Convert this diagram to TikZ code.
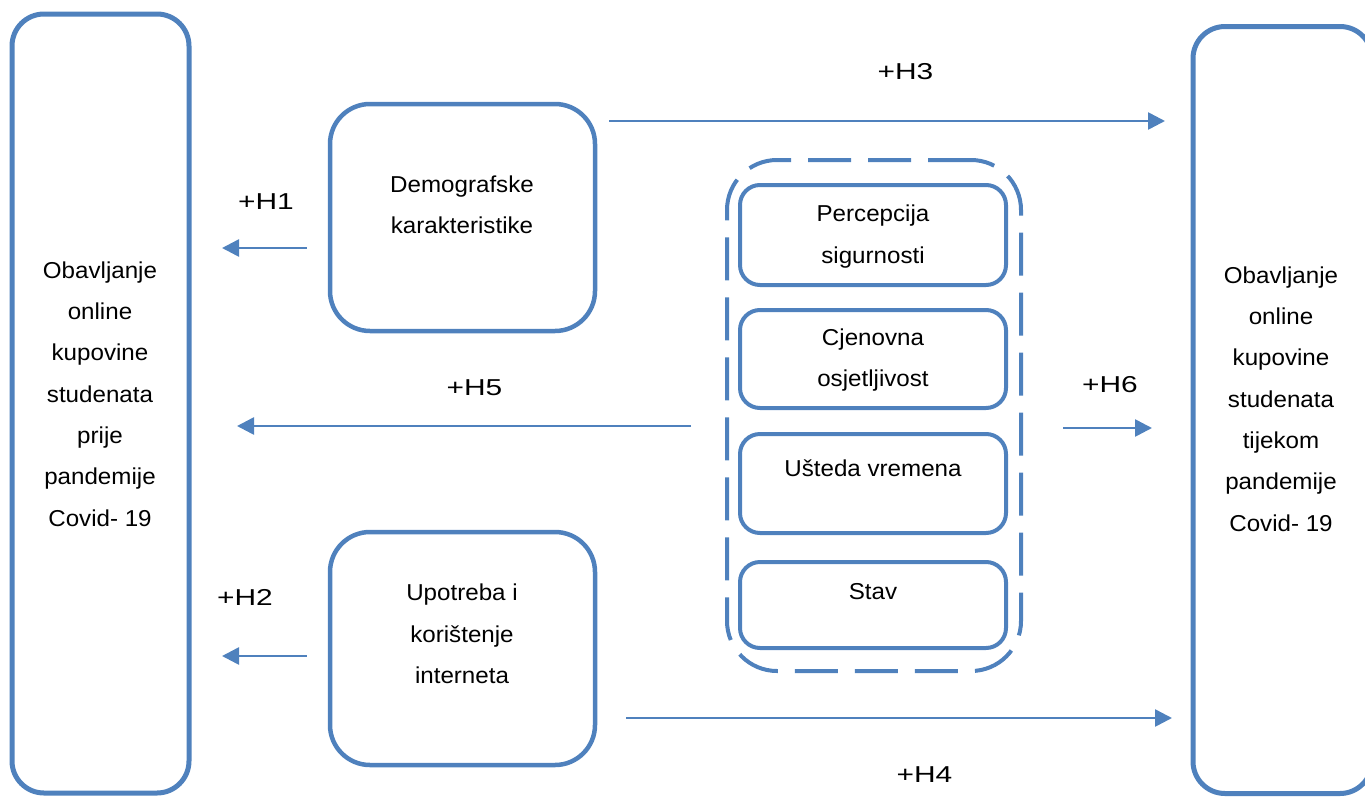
\documentclass[tikz,border=0pt]{standalone}
\usepackage{fontspec}
\setmainfont{Liberation Sans}[FakeStretch=1.05]
\newfontfamily\hypfont{Liberation Sans}[FakeStretch=1.3]
\usetikzlibrary{arrows.meta}

\begin{document}
\begin{tikzpicture}[x=0.5pt, y=-0.5pt]

	\def\yha{248}
	\def\yhb{656}
	\def\yhc{121}
	\def\yhd{718}
	\def\yhe{426}
	\def\yhf{428}

	% Colours
	\definecolor{boxcolor}{HTML}{4F81BD}

	% Styles
	\tikzstyle{bigbox}=[draw=boxcolor, line width=2.5pt, rounded corners=16pt, inner sep=0pt]
	\tikzstyle{midbox}=[draw=boxcolor, line width=2.25pt, rounded corners=20pt, inner sep=0pt,
		minimum width=132.5pt]
	\tikzstyle{factorbox}=[draw=boxcolor, line width=2pt, rounded corners=10pt, inner sep=0pt,
		minimum width=133pt]
	\tikzstyle{groupbox}=[draw=boxcolor, line width=2pt, dash pattern=on 21.5pt off 8.5pt,
		rounded corners=25pt, inner sep=0pt]
	\tikzstyle{link}=[boxcolor, line width=1.3pt, -{Triangle[length=8.5pt, width=8.5pt]}]
	\tikzstyle{boxtext}=[align=center, inner sep=0pt, font=\fontsize{11.5}{20.65}\selectfont]
	\tikzstyle{hyp}=[inner sep=0pt, font=\hypfont\fontsize{11.5}{13}\selectfont]

	\useasboundingbox (0,0) rectangle (1365,798);
	\clip (0,0) rectangle (1365,798);

	%== Outer boxes ===========================================================
	\node[bigbox, minimum width=88.5pt, minimum height=389.5pt] (before) at (100.5,403.5) {};
	\node[boxtext] (beforetext) at (100,394)
		{Obavljanje\\online\\kupovine\\studenata\\prije\\pandemije\\Covid- 19};

	\node[bigbox, minimum width=89.5pt, minimum height=383.5pt] (during) at (1282.5,410) {};
	\node[boxtext] (duringtext) at (1281,399)
		{Obavljanje\\online\\kupovine\\studenata\\tijekom\\pandemije\\Covid- 19};

	%== Left column ===========================================================
	\node[midbox, minimum height=113.5pt] (demo) at (462.5,217.5) {};
	\node[boxtext] (demotext) at (462,204.5) {Demografske\\karakteristike};

	\node[midbox, minimum height=116.5pt] (internet) at (462.5,648.5) {};
	\node[boxtext] (internettext) at (462,634) {Upotreba i\\korištenje\\interneta};

	%== Factors ===============================================================
	\node[groupbox, minimum width=147pt, minimum height=255.5pt] (factors) at (874,415.5) {};

	\node[factorbox, minimum height=50pt] (safety) at (873,235) {};
	\node[boxtext] (safetytext) at (873,236.5) {Percepcija\\sigurnosti};

	\node[factorbox, minimum height=49pt] (price) at (873,359) {};
	\node[boxtext] (pricetext) at (873,360) {Cjenovna\\osjetljivost};

	\node[factorbox, minimum height=49.5pt] (time) at (873,483.5) {};
	\node[boxtext] (timetext) at (873,468) {Ušteda vremena};

	\node[factorbox, minimum height=43pt] (attitude) at (873,605) {};
	\node[boxtext] (attitudetext) at (873,592) {Stav};

	%== Hypotheses ============================================================
	\coordinate (ha) at (0,\yha);
	\coordinate (hb) at (0,\yhb);
	\coordinate (hc) at (0,\yhc);
	\coordinate (hd) at (0,\yhd);
	\coordinate (he) at (0,\yhe);
	\coordinate (hf) at (0,\yhf);

	\draw[link, shorten <=10.4pt, shorten >=15.25pt] (demo.west |- ha) -- (before.east |- ha);
	\draw[link, shorten <=10.4pt, shorten >=15.25pt] (internet.west |- hb) -- (before.east |- hb);
	\draw[link, shorten <=5.9pt, shorten >=12.75pt] (demo.east |- hc) -- (during.west |- hc);
	\draw[link, shorten <=14.4pt, shorten >=9.25pt] (internet.east |- hd) -- (during.west |- hd);
	\draw[link, shorten <=17pt, shorten >=22.75pt] (factors.west |- he) -- (before.east |- he);
	\draw[link, shorten <=20pt, shorten >=19.25pt] (factors.east |- hf) -- (during.west |- hf);

	\node[hyp] (h1) at (266,202) {+H1};
	\node[hyp] (h2) at (245,597) {+H2};
	\node[hyp] (h3) at (905.5,72) {+H3};
	\node[hyp] (h4) at (924.5,775) {+H4};
	\node[hyp] (h5) at (474.5,388) {+H5};
	\node[hyp] (h6) at (1110,385) {+H6};

\end{tikzpicture}
\end{document}
